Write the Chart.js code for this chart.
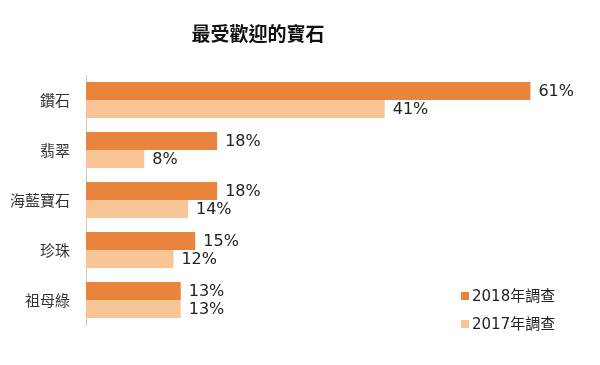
<!DOCTYPE html>
<html>
<head>
<meta charset="utf-8">
<script src="https://cdn.jsdelivr.net/npm/chart.js@4"></script>
<style>
	html, body { margin: 0; padding: 0; background: #fff; }
	#wrap { width: 600px; height: 365px; position: relative; }
</style>
</head>
<body>
<div id="wrap"><canvas id="chart"></canvas></div>
<script>
"use strict";

const chartTitle = "最受歡迎的寶石";
const categories = ["鑽石", "翡翠", "海藍寶石", "珍珠", "祖母綠"];
const seriesLabels = ["2018年調查", "2017年調查"];
const values2018 = [61, 18, 18, 15, 13];
const values2017 = [41, 8, 14, 12, 13];
const seriesColors = ["#e8843b", "#f9c596"];

const FONT = "'DejaVu Sans', 'Noto Sans CJK TC', sans-serif";
const CJK = "'Noto Sans CJK TC', sans-serif";

// value labels at the end of each bar, plus title and the in-plot legend
const extrasPlugin = {
	id: "extras",
	afterDatasetsDraw(chart) {
		const ctx = chart.ctx;
		ctx.save();
		ctx.fillStyle = "#222";
		ctx.font = "16px " + FONT;
		ctx.textAlign = "left";
		ctx.textBaseline = "middle";
		chart.data.datasets.forEach((ds, di) => {
			const meta = chart.getDatasetMeta(di);
			meta.data.forEach((bar, i) => {
				ctx.fillText(ds.data[i] + "%", bar.x + 8, bar.y + 1);
			});
		});
		
		// title
		ctx.font = "bold 19px " + CJK;
		ctx.textAlign = "center";
		ctx.fillStyle = "#111";
		ctx.fillText(chartTitle, 258, 34);
		
		// legend, bottom right inside the plot
		ctx.font = "15px " + FONT;
		ctx.textAlign = "left";
		chart.data.datasets.forEach((ds, di) => {
			const y = 296 + di * 28;
			ctx.fillStyle = ds.backgroundColor;
			ctx.fillRect(461, y - 4, 8, 8);
			ctx.fillStyle = "#222";
			ctx.fillText(ds.label, 472, y + 1);
		});
		ctx.restore();
	},
};

new Chart(document.getElementById("chart"), {
	type: "bar",
	data: {
		labels: categories,
		datasets: [
			{
				label: seriesLabels[0],
				data: values2018,
				backgroundColor: seriesColors[0],
				categoryPercentage: 0.72,
				barPercentage: 1.0,
			},
			{
				label: seriesLabels[1],
				data: values2017,
				backgroundColor: seriesColors[1],
				categoryPercentage: 0.72,
				barPercentage: 1.0,
			},
		],
	},
	options: {
		indexAxis: "y",
		responsive: true,
		maintainAspectRatio: false,
		animation: false,
		layout: {
			padding: { top: 75, bottom: 40, left: 0, right: 4 },
		},
		plugins: {
			legend: { display: false },
			title: { display: false },
			tooltip: { enabled: false },
		},
		scales: {
			x: {
				display: false,
				min: 0,
				max: 70,
			},
			y: {
				afterFit: scale => { scale.width = 86; },
				grid: { display: false, drawTicks: false },
				border: { display: true, color: "#c8c8c8", width: 1 },
				ticks: {
					color: "#333",
					padding: 16,
					font: { family: CJK, size: 15 },
				},
			},
		},
	},
	plugins: [extrasPlugin],
});
</script>
</body>
</html>
